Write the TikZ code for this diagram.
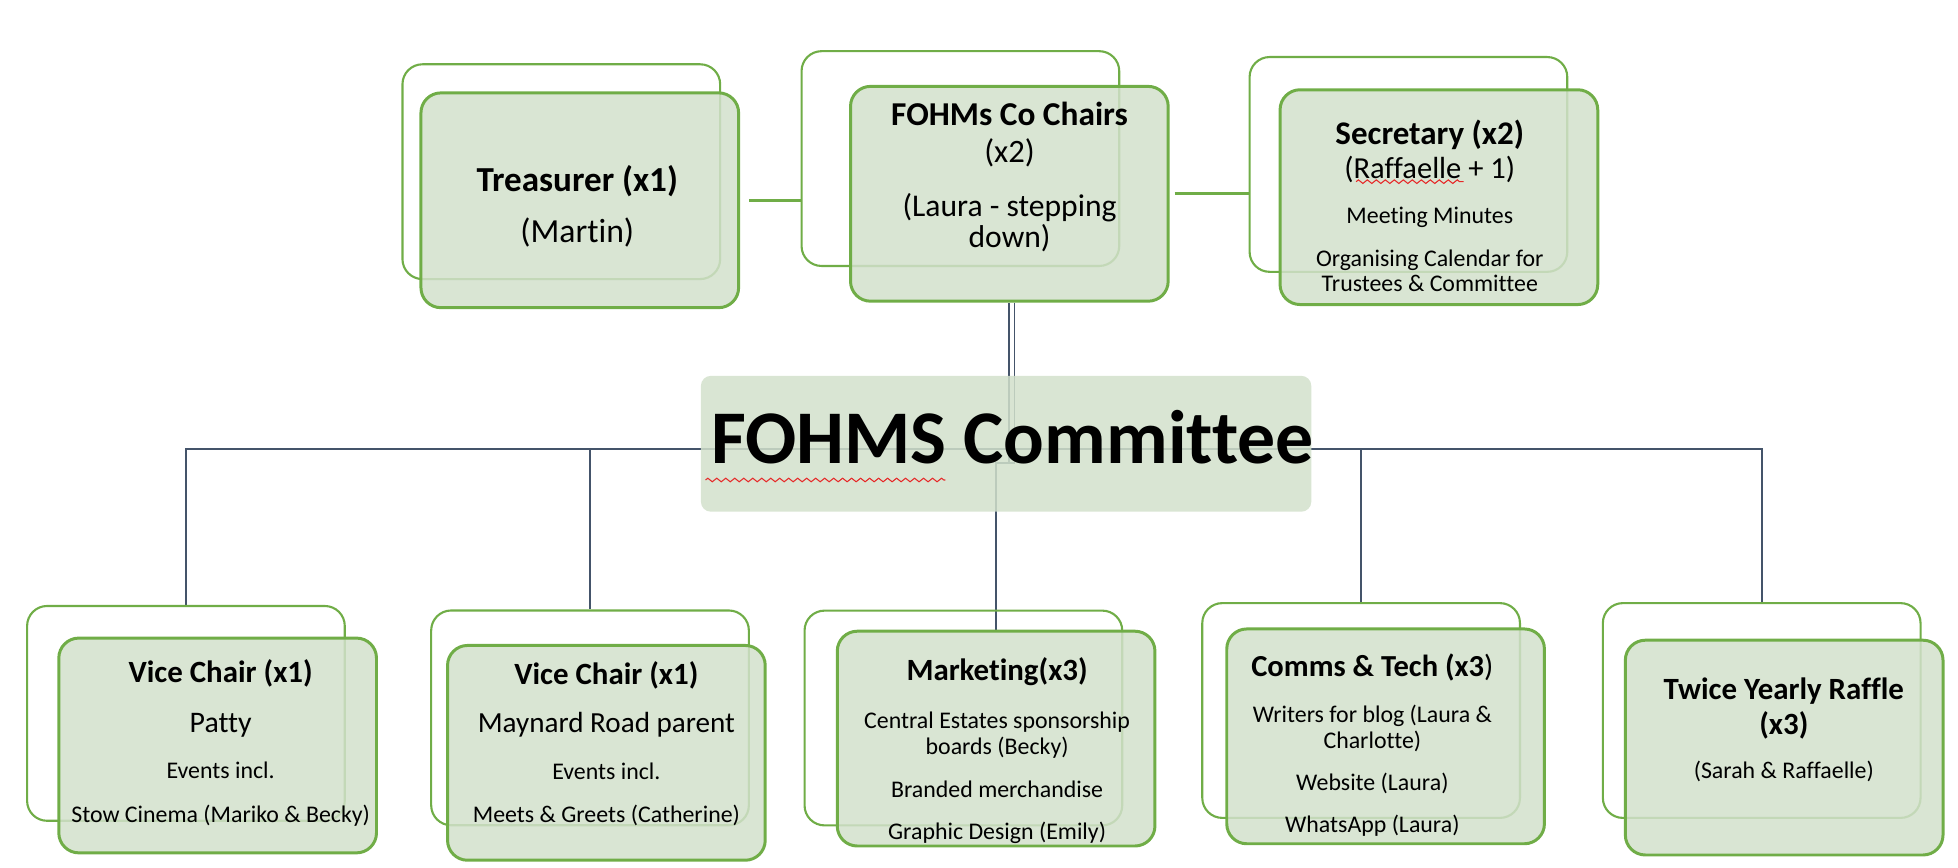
\documentclass[tikz,border=0pt]{standalone}
\usepackage{fontspec}
\setmainfont{Carlito}[Ligatures=NoCommon]
\usetikzlibrary{positioning, backgrounds, decorations.pathmorphing}

\definecolor{boxline}{RGB}{112,173,71}
\definecolor{boxfill}{RGB}{210,224,203}
\definecolor{linkcol}{RGB}{68,84,106}
\definecolor{spellred}{RGB}{230,40,40}

\newcommand{\sz}[1]{\fontsize{#1}{7pt}\selectfont}

\begin{document}
\begin{tikzpicture}[x=0.125mm, y=-0.125mm,
  backbox/.style={draw=boxline, line width=0.6pt, rounded corners=2mm,
                  minimum width=31.8mm, minimum height=21.5mm, inner sep=0pt},
  rolebox/.style={backbox, line width=0.85pt, fill=boxfill, fill opacity=0.85},
  hubbox/.style={fill=boxfill, fill opacity=0.85, rounded corners=1mm,
                 minimum width=61.1mm, minimum height=13.6mm, inner sep=0pt},
  roletext/.style={align=center, inner sep=0pt,
                   font={\lineskiplimit=-100pt\sz{6.8}}},
  link/.style={linkcol, line width=0.45pt},
  tie/.style={boxline, line width=0.85pt},
  squiggle/.style={spellred, line width=0.3pt, decorate,
                   decoration={zigzag, segment length=0.9mm, amplitude=0.18mm}}]

  \useasboundingbox (0,0) rectangle (1568,695);

  % top row
  \node[backbox] (treasB)  at (449.5,137.5) {};
  \node[rolebox] (treas)   at (464.3,160.4) {};
  \node[backbox] (chairsB) at (769.1,127) {};
  \node[rolebox] (chairs)  at (808.3,155.2) {};
  \node[backbox] (secB)    at (1127.9,131.7) {};
  \node[rolebox] (sec)     at (1152.3,157.9) {};

  % committee
  \node[hubbox] (comm) at (805.7,355.4) {};

  % bottom row
  \node[backbox] (vc1B)    at (148.9,571.3) {};
  \node[rolebox] (vc1)     at (174.3,597) {};
  \node[backbox] (vc2B)    at (472.5,574.9) {};
  \node[rolebox] (vc2)     at (485.6,602.9) {};
  \node[backbox] (mktB)    at (771.5,575) {};
  \node[rolebox] (mkt)     at (797.7,591.5) {};
  \node[backbox] (commsB)  at (1090,569) {};
  \node[rolebox] (comms)   at (1109.6,589.7) {};
  \node[backbox] (raffleB) at (1410.8,569) {};
  \node[rolebox] (raffle)  at (1428.8,598.7) {};

  % texts
  \node[roletext] (treasT) at (462.3,165.5)
    {{\sz{10}\bfseries Treasurer (x1)}\\[7.6pt]{\sz{9.6}(Martin)}};
  \node[roletext] (chairsT) at (808.5,142)
    {{\sz{9.5}\bfseries FOHMs Co Chairs}\\[3.4pt]{\sz{9.3}(x2)}\\[8.3pt]
     {\sz{9}(Laura - stepping}\\[2pt]{\sz{9}down)}};
  \node[roletext] (secT) at (1145,165)
    {{\sz{9.4}\bfseries Secretary (x2)}\\[2.7pt]{\sz{8.7}(Raffaelle + 1)}\\[5.8pt]
     Meeting Minutes\\[5.3pt]Organising Calendar for\\Trustees \& Committee};
  \node[font={\sz{21.6}\bfseries}, inner sep=0pt] (commT) at (810.9,350.5)
    {FOHMS Committee};
  \node[roletext] (vc1T) at (176.7,595)
    {{\sz{8.8}\bfseries Vice Chair (x1)}\\[7.2pt]{\sz{8.5}Patty}\\[6.2pt]
     Events incl.\\[5.4pt]Stow Cinema (Mariko \& Becky)};
  \node[roletext] (vc2T) at (485.6,595.5)
    {{\sz{8.8}\bfseries Vice Chair (x1)}\\[6.9pt]{\sz{8.3}Maynard Road parent}\\[6.2pt]
     Events incl.\\[5.4pt]Meets \& Greets (Catherine)};
  \node[roletext] (mktT) at (798.5,601.3)
    {{\sz{8.8}\bfseries Marketing(x3)}\\[6.6pt]Central Estates sponsorship\\[0.3pt]
     boards (Becky)\\[5.2pt]Branded merchandise\\[5.1pt]Graphic Design (Emily)};
  \node[roletext] (commsT) at (1099,596.4)
    {{\sz{8.7}\bfseries Comms \& Tech (x3}{\sz{8.7})}\\[6.3pt]Writers for blog (Laura \&\\[0.4pt]
     Charlotte)\\[4.8pt]Website (Laura)\\[5pt]WhatsApp (Laura)};
  \node[roletext] (raffleT) at (1428.5,584.4)
    {{\sz{8.8}\bfseries Twice Yearly Raffle}\\[3pt]{\sz{8.8}\bfseries (x3)}\\[5.6pt]
     (Sarah \& Raffaelle)};

  % spell-check marks
  \draw[squiggle] (565,384.4) -- (757,384.4);
  \draw[squiggle] (1086,145.5) -- (1172,145.5);

  % connectors
  \coordinate (jog) at (812.5,371);
  \begin{scope}[on background layer]
    \draw[tie] ([xshift=0.9mm]treas.east) -- (treas.east -| chairsB.west);
    \draw[tie] ([xshift=0.5mm]chairs.east) -- (chairs.east -| secB.west);
    \foreach \kid in {vc1B, vc2B, commsB, raffleB}
      \draw[link] ([yshift=-0.5mm]comm.center) -| (\kid.north);
    \draw[link, double=white, double distance=0.36mm]
      ([xshift=0.25mm]chairs.south) -- ([xshift=0.25mm]chairs.south |- jog);
    \draw[link] (jog) -| (mkt.north);
  \end{scope}
\end{tikzpicture}
\end{document}
